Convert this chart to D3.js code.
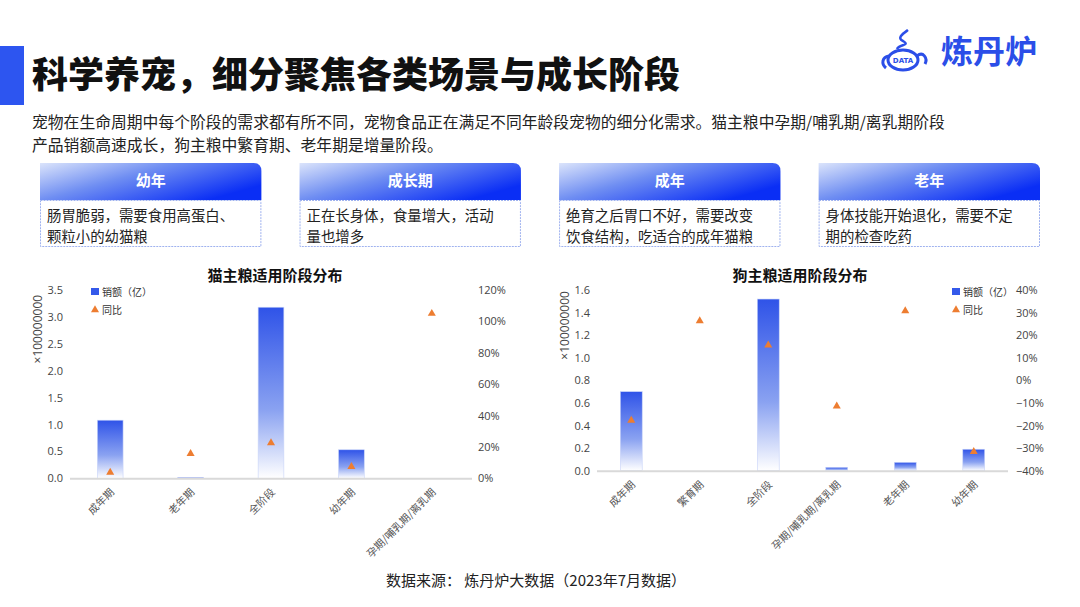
<!DOCTYPE html>
<html>
<head>
<meta charset="utf-8">
<script src="https://cdn.jsdelivr.net/npm/d3@7"></script>
<style>
  body { margin: 0; background: #fff; }
  svg { display: block; font-family: "Noto Sans CJK SC", "Noto Sans", sans-serif; }
</style>
</head>
<body>
<svg id="page" width="1080" height="607"></svg>
<script>
// ---- data ----
var pageTitle = "科学养宠，细分聚焦各类场景与成长阶段";
var introLines = [
  "宠物在生命周期中每个阶段的需求都有所不同，宠物食品正在满足不同年龄段宠物的细分化需求。猫主粮中孕期/哺乳期/离乳期阶段",
  "产品销额高速成长，狗主粮中繁育期、老年期是增量阶段。"
];
var cardTitles = ["幼年", "成长期", "成年", "老年"];
var cardTexts = [
  ["肠胃脆弱，需要食用高蛋白、", "颗粒小的幼猫粮"],
  ["正在长身体，食量增大，活动", "量也增多"],
  ["绝育之后胃口不好，需要改变", "饮食结构，吃适合的成年猫粮"],
  ["身体技能开始退化，需要不定", "期的检查吃药"]
];

var catStages = ["成年期", "老年期", "全阶段", "幼年期", "孕期/哺乳期/离乳期"];
var catSales = [1.08, 0.015, 3.18, 0.53, 0];       // x100000000
var catYoY = [0.038, 0.157, 0.225, 0.074, 1.05];

var dogStages = ["成年期", "繁育期", "全阶段", "孕期/哺乳期/离乳期", "老年期", "幼年期"];
var dogSales = [0.70, 0, 1.52, 0.03, 0.074, 0.19];
var dogYoY = [-0.177, 0.263, 0.156, -0.114, 0.307, -0.316];

var legendNames = ["销额（亿）", "同比"];
var sourceText = "数据来源：  炼丹炉大数据（2023年7月数据）";

var svg = d3.select("#page");
var defs = svg.append("defs");

var hg = defs.append("linearGradient").attr("id", "cardHead")
  .attr("x1", "0").attr("y1", "0").attr("x2", "1").attr("y2", "0.6");
hg.append("stop").attr("offset", "0%").attr("stop-color", "#dbe4fb");
hg.append("stop").attr("offset", "45%").attr("stop-color", "#6f8ef2");
hg.append("stop").attr("offset", "100%").attr("stop-color", "#0a2ef5");

var bg = defs.append("linearGradient").attr("id", "barFill")
  .attr("x1", "0").attr("y1", "0").attr("x2", "0").attr("y2", "1");
bg.append("stop").attr("offset", "0%").attr("stop-color", "#2f53e8");
bg.append("stop").attr("offset", "60%").attr("stop-color", "#8aa2f1");
bg.append("stop").attr("offset", "100%").attr("stop-color", "#ffffff");

// ---- header ----
svg.append("rect").attr("x", 0).attr("y", 46).attr("width", 24).attr("height", 59).attr("fill", "#2d55f0");
svg.append("text").attr("x", 32).attr("y", 88)
  .attr("font-size", 36).attr("font-weight", 900).attr("fill", "#111")
  .text(pageTitle);

// logo
var logo = svg.append("g").attr("fill", "none").attr("stroke", "#2b4ee8");
logo.append("ellipse").attr("cx", 903).attr("cy", 60).attr("rx", 15).attr("ry", 10).attr("stroke-width", 3);
logo.append("path").attr("d", "M889,56 C882,57 881,64 886,68").attr("stroke-width", 3);
logo.append("path").attr("d", "M917,56 C923,51 928,58 925,64").attr("stroke-width", 3);
logo.append("path").attr("d", "M897,49 C899,44 911,46 903,41 C896,38 904,33 908,30").attr("stroke-width", 2.5);
svg.append("text").attr("x", 903).attr("y", 63).attr("text-anchor", "middle")
  .attr("font-size", 7).attr("font-weight", 700).attr("fill", "#2b4ee8").attr("font-family", "DejaVu Sans").text("DATA");
svg.append("text").attr("x", 941).attr("y", 63)
  .attr("font-size", 32).attr("font-weight", 700).attr("fill", "#2b4ee8").text("炼丹炉");

// intro paragraph
svg.append("g").selectAll("text").data(introLines).enter().append("text")
  .attr("x", 32).attr("y", function (d, i) { return 128 + i * 23; })
  .attr("font-size", 15.8).attr("fill", "#222")
  .text(function (d) { return d; });

// ---- cards ----
var cardX = d3.scaleBand().domain(cardTitles).range([40, 1040]).paddingInner(0.147);
var cards = svg.append("g").selectAll("g").data(cardTitles).enter().append("g")
  .attr("transform", function (d) { return "translate(" + cardX(d) + ",0)"; });
var cw = cardX.bandwidth();
cards.append("rect").attr("x", 0.5).attr("y", 200.5).attr("width", cw - 1).attr("height", 46)
  .attr("fill", "#fff").attr("stroke", "#9fb2ef").attr("stroke-dasharray", "2,1");
cards.append("path")
  .attr("d", "M0,163 H" + (cw - 8) + " Q" + cw + ",163 " + cw + ",171 V200 H0 Z")
  .attr("fill", "url(#cardHead)");
cards.append("text").attr("x", cw / 2).attr("y", 186).attr("text-anchor", "middle")
  .attr("font-size", 15).attr("font-weight", 700).attr("fill", "#fff")
  .text(function (d) { return d; });
cards.each(function (d, i) {
  d3.select(this).selectAll("text.body").data(cardTexts[i]).enter().append("text")
    .attr("class", "body").attr("x", 7).attr("y", function (t, j) { return 221 + j * 21; })
    .attr("font-size", 14.4).attr("fill", "#222")
    .text(function (t) { return t; });
});

// ---- charts ----
function drawChart(o) {
  var g = svg.append("g");
  var x = d3.scaleBand().domain(o.cats).range([o.x0, o.x1]).paddingInner(o.pad).paddingOuter(o.pad / 2);
  var y = d3.scaleLinear().domain(o.yDom).range([o.yBottom, o.yTop]);
  var y2 = d3.scaleLinear().domain(o.y2Dom).range([o.yBottom, o.yTop]);

  g.append("text").attr("x", o.titleX).attr("y", 281).attr("text-anchor", "middle")
    .attr("font-size", 15).attr("font-weight", 700).attr("fill", "#111").text(o.title);

  var ax = g.append("g").attr("transform", "translate(" + o.x0 + ",0)")
    .call(d3.axisLeft(y).tickValues(o.yTicks).tickFormat(d3.format(".1f")).tickSize(0).tickPadding(7));
  ax.select(".domain").remove();
  var ax2 = g.append("g").attr("transform", "translate(" + o.x1 + ",0)")
    .call(d3.axisRight(y2).tickValues(o.y2Ticks).tickFormat(d3.format(".0%")).tickSize(0).tickPadding(o.rPad));
  ax2.select(".domain").remove();
  g.selectAll(".tick text").attr("font-size", 11).attr("fill", "#444")
    .attr("font-family", "Open Sans, Noto Sans, sans-serif");

  g.append("text").attr("transform", "translate(" + o.unitX + "," + ((o.yTop + o.yBottom) / 2 - 55) + ") rotate(-90)")
    .attr("text-anchor", "middle").attr("dy", "0.35em")
    .attr("font-size", 12).attr("fill", "#444").attr("font-family", "Open Sans, Noto Sans, sans-serif")
    .text("×100000000");

  g.append("g").selectAll("rect").data(o.sales).enter().append("rect")
    .attr("x", function (d, i) { return x(o.cats[i]); })
    .attr("width", x.bandwidth())
    .attr("y", function (d) { return y(d); })
    .attr("height", function (d) { return o.yBottom - y(d); })
    .attr("fill", "url(#barFill)")
    .attr("stroke", "#c9d4f8").attr("stroke-width", 0.6);

  g.append("line").attr("x1", o.x0).attr("x2", o.x1).attr("y1", o.yBottom + 0.5).attr("y2", o.yBottom + 0.5)
    .attr("stroke", "#d9d9d9").attr("stroke-width", 2);

  var tri = d3.symbol().type(d3.symbolTriangle).size(28);
  g.append("g").selectAll("path").data(o.yoy).enter().append("path")
    .attr("d", tri)
    .attr("transform", function (d, i) { return "translate(" + (x(o.cats[i]) + x.bandwidth() / 2) + "," + y2(d) + ")"; })
    .attr("fill", "#ed7d31");

  g.append("g").selectAll("text").data(o.cats).enter().append("text")
    .attr("transform", function (d) { return "translate(" + (x(d) + x.bandwidth() / 2 + 2) + "," + (o.yBottom + 12) + ") rotate(-45)"; })
    .attr("text-anchor", "end").attr("dy", "0.35em")
    .attr("font-size", 10.5).attr("fill", "#555")
    .text(function (d) { return d; });

  // legend
  var lg = g.append("g").attr("transform", "translate(" + o.legX + ",0)");
  lg.append("rect").attr("x", 0).attr("y", 288).attr("width", 8).attr("height", 7).attr("fill", "#3459ea");
  lg.append("path").attr("d", tri).attr("transform", "translate(4,310)").attr("fill", "#ed7d31");
  lg.selectAll("text").data(legendNames).enter().append("text")
    .attr("x", 11).attr("y", function (d, i) { return 292 + i * 18; }).attr("dy", "0.35em")
    .attr("font-size", 10).attr("fill", "#333").text(function (d) { return d; });
}

drawChart({
  title: "猫主粮适用阶段分布", titleX: 275,
  cats: catStages, sales: catSales, yoy: catYoY,
  x0: 70, x1: 472, pad: 0.68, yTop: 290, yBottom: 478.3,
  yDom: [0, 3.5], yTicks: d3.range(0, 3.51, 0.5),
  y2Dom: [0, 1.2], y2Ticks: d3.range(0, 1.21, 0.2),
  rPad: 6, unitX: 38, legX: 91
});
drawChart({
  title: "狗主粮适用阶段分布", titleX: 800,
  cats: dogStages, sales: dogSales, yoy: dogYoY,
  x0: 597, x1: 1008, pad: 0.68, yTop: 290, yBottom: 470.7,
  yDom: [0, 1.6], yTicks: d3.range(0, 1.61, 0.2),
  y2Dom: [-0.4, 0.4], y2Ticks: d3.range(-0.4, 0.41, 0.1),
  rPad: 8, unitX: 565, legX: 952
});

// ---- footer ----
svg.append("text").attr("x", 536).attr("y", 586).attr("text-anchor", "middle")
  .attr("font-size", 15).attr("fill", "#222").text(sourceText);
</script>
</body>
</html>
